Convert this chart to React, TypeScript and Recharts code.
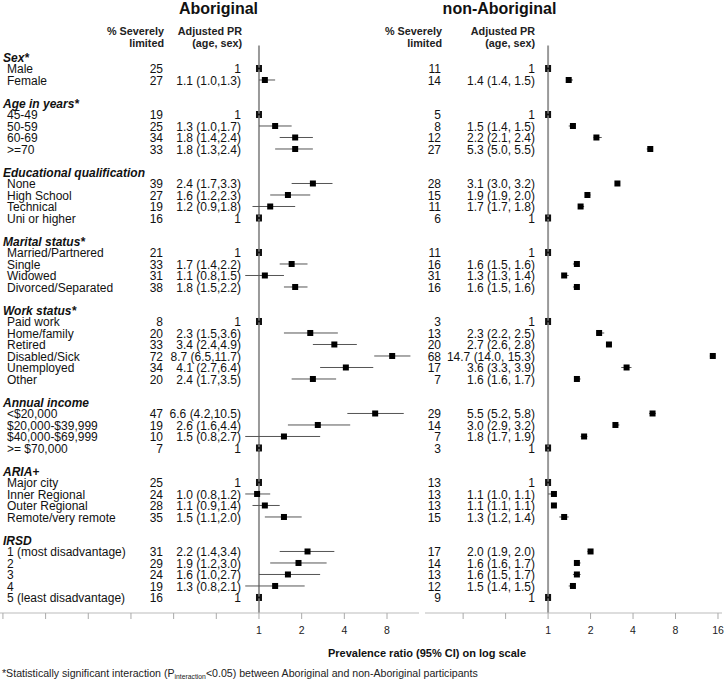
import { ScatterChart, Scatter, XAxis, YAxis, ErrorBar, ReferenceLine } from 'recharts'

const FONT = '"Liberation Sans", Arial, sans-serif'

const groupTitles = [
  'Sex*',
  'Age in years*',
  'Educational qualification',
  'Marital status*',
  'Work status*',
  'Annual income',
  'ARIA+',
  'IRSD',
]

const categories: string[][] = [
  ['Male', 'Female'],
  ['45-49', '50-59', '60-69', '>=70'],
  ['None', 'High School', 'Technical', 'Uni or higher'],
  ['Married/Partnered', 'Single', 'Widowed', 'Divorced/Separated'],
  ['Paid work', 'Home/family', 'Retired', 'Disabled/Sick', 'Unemployed', 'Other'],
  ['<$20,000', '$20,000-$39,999', '$40,000-$69,999', '>= $70,000'],
  ['Major city', 'Inner Regional', 'Outer Regional', 'Remote/very remote'],
  ['1 (most disadvantage)', '2', '3', '4', '5 (least disadvantage)'],
]

// Aboriginal: % severely limited, adjusted PR and 95% CI (null = reference group)
const abPct = [25, 27, 19, 25, 34, 33, 39, 27, 19, 16, 21, 33, 31, 38, 8, 20, 33, 72, 34, 20, 47, 19, 10, 7, 25, 24, 28, 35, 31, 29, 24, 19, 16]
const abPR = [1, 1.1, 1, 1.3, 1.8, 1.8, 2.4, 1.6, 1.2, 1, 1, 1.7, 1.1, 1.8, 1, 2.3, 3.4, 8.7, 4.1, 2.4, 6.6, 2.6, 1.5, 1, 1, 0.97, 1.1, 1.5, 2.2, 1.9, 1.6, 1.3, 1]
const abLo = [null, 1.0, null, 1.0, 1.4, 1.3, 1.7, 1.2, 0.9, null, null, 1.4, 0.8, 1.5, null, 1.5, 2.4, 6.5, 2.7, 1.7, 4.2, 1.6, 0.8, null, null, 0.8, 0.9, 1.1, 1.4, 1.2, 1.0, 0.8, null]
const abHi = [null, 1.3, null, 1.7, 2.4, 2.4, 3.3, 2.3, 1.8, null, null, 2.2, 1.5, 2.2, null, 3.6, 4.9, 11.7, 6.4, 3.5, 10.5, 4.4, 2.7, null, null, 1.2, 1.4, 2.0, 3.4, 3.0, 2.7, 2.1, null]

// non-Aboriginal
const nonPct = [11, 14, 5, 8, 12, 27, 28, 15, 11, 6, 11, 16, 31, 16, 3, 13, 20, 68, 17, 7, 29, 14, 7, 3, 13, 13, 13, 15, 17, 14, 13, 12, 9]
const nonPR = [1, 1.4, 1, 1.5, 2.2, 5.3, 3.1, 1.9, 1.7, 1, 1, 1.6, 1.3, 1.6, 1, 2.3, 2.7, 14.7, 3.6, 1.6, 5.5, 3.0, 1.8, 1, 1, 1.1, 1.1, 1.3, 2.0, 1.6, 1.6, 1.5, 1]
const nonLo = [null, 1.4, null, 1.4, 2.1, 5.0, 3.0, 1.9, 1.7, null, null, 1.5, 1.3, 1.5, null, 2.2, 2.6, 14.0, 3.3, 1.6, 5.2, 2.9, 1.7, null, null, 1.0, 1.1, 1.2, 1.9, 1.6, 1.5, 1.4, null]
const nonHi = [null, 1.5, null, 1.5, 2.4, 5.5, 3.2, 2.0, 1.8, null, null, 1.6, 1.4, 1.6, null, 2.5, 2.8, 15.3, 3.9, 1.7, 5.8, 3.2, 1.9, null, null, 1.1, 1.1, 1.4, 2.0, 1.7, 1.7, 1.5, null]

const abTicks = [1 / 64, 1 / 32, 1 / 16, 1 / 8, 1 / 4, 1 / 2, 1, 2, 4, 8]
const nonTicks = [1 / 4, 1 / 2, 1, 2, 4, 8, 16]

// row layout: a slot per line, group header + items + blank line
const ROW0 = 57
const ROW_H = 11.5
const slotY = (s: number) => ROW0 + ROW_H * s

const headerSlots: number[] = []
const itemSlots: number[] = []
const itemLabels: string[] = []
{
  let s = 0
  categories.forEach((items) => {
    headerSlots.push(s)
    items.forEach((lab, i) => {
      itemSlots.push(s + 1 + i)
      itemLabels.push(lab)
    })
    s += items.length + 2
  })
}

type Row = { slot: number; pr: number; err: [number, number]; ref: boolean }

function buildRows(pr: number[], lo: (number | null)[], hi: (number | null)[]): Row[] {
  return pr.map((v, i) => {
    const l = lo[i]
    const h = hi[i]
    return {
      slot: itemSlots[i],
      pr: v,
      err: [l == null ? 0 : v - l, h == null ? 0 : h - v],
      ref: l == null,
    }
  })
}

const fmt = (pr: number, lo: number | null, hi: number | null, sep: string) =>
  lo == null || hi == null ? '1' : `${pr.toFixed(1)} (${lo.toFixed(1)},${sep}${hi.toFixed(1)})`

function Marker(props: any) {
  const { cx, cy, payload } = props
  if (cx == null || cy == null) return null
  if (payload?.ref) {
    return (
      <g>
        <rect x={cx - 3} y={cy - 3.5} width={6} height={7} fill="#111" />
        <rect x={cx - 0.8} y={cy - 3.5} width={1.6} height={2.6} fill="#777" />
        <rect x={cx - 0.8} y={cy + 0.9} width={1.6} height={2.6} fill="#777" />
      </g>
    )
  }
  return <rect x={cx - 3} y={cy - 3} width={6} height={6} fill="#000" />
}

const Y_DOMAIN: [number, number] = [-4, 48.35]

function Panel({
  rows,
  ticks,
  domain,
  width,
  left,
  margin,
}: {
  rows: Row[]
  ticks: number[]
  domain: [number, number]
  width: number
  left: number
  margin: { top: number; right: number; bottom: number; left: number }
}) {
  return (
    <div style={{ position: 'absolute', left, top: 0 }}>
      <ScatterChart width={width} height={680} margin={margin}>
        <XAxis
          type="number"
          dataKey="pr"
          scale="log"
          domain={domain}
          allowDataOverflow
          ticks={ticks}
          interval={0}
          tickFormatter={(v: number) => (v >= 1 ? String(v) : '')}
          tick={{ fontSize: 10.5, fill: '#222', fontFamily: FONT }}
          tickLine={{ stroke: '#aaa' }}
          axisLine={{ stroke: '#bbb' }}
          tickSize={6}
          tickMargin={8}
          height={30}
        />
        <YAxis type="number" dataKey="slot" domain={Y_DOMAIN} reversed hide width={0} allowDataOverflow />
        <ReferenceLine
          segment={[
            { x: 1, y: -1 },
            { x: 1, y: Y_DOMAIN[1] },
          ]}
          stroke="#999"
          strokeWidth={2}
        />
        <Scatter data={rows} shape={Marker} isAnimationActive={false}>
          <ErrorBar dataKey="err" direction="x" width={0} stroke="#555" strokeWidth={1} />
        </Scatter>
      </ScatterChart>
    </div>
  )
}

export default function App() {
  const abRows = buildRows(abPR, abLo, abHi)
  const nonRows = buildRows(nonPR, nonLo, nonHi)

  return (
    <div
      style={{
        position: 'absolute',
        left: 0,
        top: 0,
        width: 724,
        height: 680,
        background: '#fff',
        overflow: 'hidden',
        fontFamily: FONT,
      }}
    >
      <Panel
        rows={abRows}
        ticks={abTicks}
        domain={[0.0149, 13.45]}
        width={424}
        left={0}
        margin={{ top: 11, right: 5, bottom: 37, left: 0 }}
      />
      <Panel
        rows={nonRows}
        ticks={nonTicks}
        domain={[0.1342, 17.08]}
        width={300}
        left={424}
        margin={{ top: 11, right: 2, bottom: 37, left: 1 }}
      />
      <svg
        width={724}
        height={680}
        style={{ position: 'absolute', left: 0, top: 0, pointerEvents: 'none' }}
        fontFamily={FONT}
      >
        <text x={218.5} y={14} textAnchor="middle" fontSize={16} fontWeight="bold" fill="#111">
          Aboriginal
        </text>
        <text x={499.5} y={14} textAnchor="middle" fontSize={16} fontWeight="bold" fill="#111">
          non-Aboriginal
        </text>

        {[
          [164, 242],
          [442, 535],
        ].map(([xp, xr], k) => (
          <g key={k} fontSize={10.8} fontWeight="bold" fill="#222" textAnchor="end">
            <text x={xp} y={35}>% Severely</text>
            <text x={xp} y={47}>limited</text>
            <text x={xr} y={35}>Adjusted PR</text>
            <text x={xr} y={47}>(age, sex)</text>
          </g>
        ))}

        {groupTitles.map((t, i) => (
          <text
            key={t}
            x={3}
            y={slotY(headerSlots[i]) + 4.5}
            fontSize={12}
            fontWeight="bold"
            fontStyle="italic"
            fill="#111"
          >
            {t}
          </text>
        ))}

        {itemLabels.map((lab, i) => {
          const y = slotY(itemSlots[i]) + 4.5
          return (
            <g key={i} fontSize={12} fill="#111">
              <text x={7} y={y}>
                {lab}
              </text>
              <text x={163} y={y} textAnchor="end">
                {abPct[i]}
              </text>
              <text x={241} y={y} textAnchor="end">
                {fmt(abPR[i], abLo[i], abHi[i], '')}
              </text>
              <text x={441} y={y} textAnchor="end">
                {nonPct[i]}
              </text>
              <text x={535} y={y} textAnchor="end">
                {fmt(nonPR[i], nonLo[i], nonHi[i], ' ')}
              </text>
            </g>
          )
        })}

        <text x={427} y={657} textAnchor="middle" fontSize={11} fontWeight="bold" fill="#111">
          Prevalence ratio (95% CI) on log scale
        </text>
        <text x={2} y={677} fontSize={10.6} fill="#222">
          *Statistically significant interaction (P
          <tspan fontSize={6.8} dy={2}>
            interaction
          </tspan>
          <tspan dy={-2}>{'<0.05) between Aboriginal and non-Aboriginal participants'}</tspan>
        </text>
      </svg>
    </div>
  )
}
